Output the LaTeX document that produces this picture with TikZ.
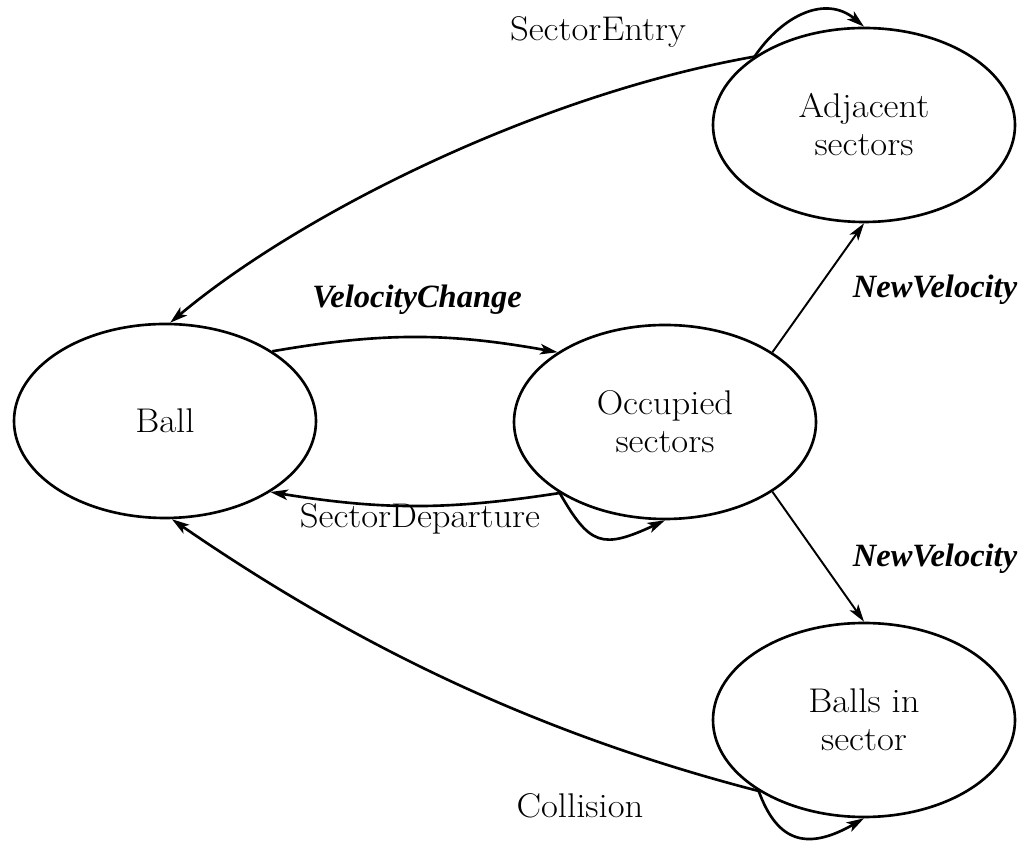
\documentclass[tikz,border=0pt]{standalone}
\usepackage{fontspec}
\setmainfont{Latin Modern Roman}[FakeStretch=1.07]
\newfontfamily\labfont{Liberation Serif}
\usetikzlibrary{arrows.meta,shapes.geometric}
\begin{document}
\begin{tikzpicture}[x=0.02cm,y=0.02cm,
  every node/.style={font=\fontsize{19.5}{21.6}\selectfont},
  state/.style={draw,ellipse,line width=1.5pt,minimum width=302*0.02cm,minimum height=194*0.02cm,inner sep=0pt,align=center},
  edge/.style={line width=1.5pt,-{Stealth[length=10pt,width=6pt,inset=2.5pt]}},
  thinedge/.style={line width=1.1pt,-{Stealth[length=10pt,width=6pt,inset=2.5pt]}},
  lab/.style={anchor=base,inner sep=0pt},
  ilab/.style={anchor=base,inner sep=0pt,font=\labfont\fontsize{18.5}{21.6}\selectfont\bfseries\itshape}]
\useasboundingbox (0,0) rectangle (1027,841);
\node[state] (Ball) at (165,420) {Ball};
\node[state] (Occ) at (665,419) {Occupied\\sectors};
\node[state] (Adj) at (864,716) {Adjacent\\sectors};
\node[state] (Balls) at (864,121) {Balls in\\sector};
% connectors
\draw[edge] (Adj.148) .. controls +(190:220) and +(40:170) .. (Ball.87);
\draw[edge] (Adj.148) .. controls +(56:50) and +(140:50) .. (Adj.north);
\draw[edge] (Ball.33) to[bend left=10] (Occ.147);
\draw[edge] (Occ.214) to[bend left=9] (Ball.-34);
\draw[edge] (Occ.214) .. controls +(-60:60) and +(-155:70) .. (Occ.south);
\draw[thinedge] (Occ.33) -- (Adj.south);
\draw[thinedge] (Occ.-33) -- (Balls.north);
\draw[edge] (Balls.214) .. controls +(165.5:250) and +(-34.5:200) .. (Ball.-86);
\draw[edge] (Balls.214) .. controls +(-70:50) and +(-150:70) .. (Balls.south);
% labels
\node[lab] (lSE) at (598,800) {SectorEntry};
\node[ilab] (lVC) at (417,533) {VelocityChange};
\node[lab] (lSD) at (420,313) {SectorDeparture};
\node[lab] (lCo) at (580,23) {Collision};
\node[ilab] (lNV1) at (935,543) {NewVelocity};
\node[ilab] (lNV2) at (935,274) {NewVelocity};
\end{tikzpicture}
\end{document}
